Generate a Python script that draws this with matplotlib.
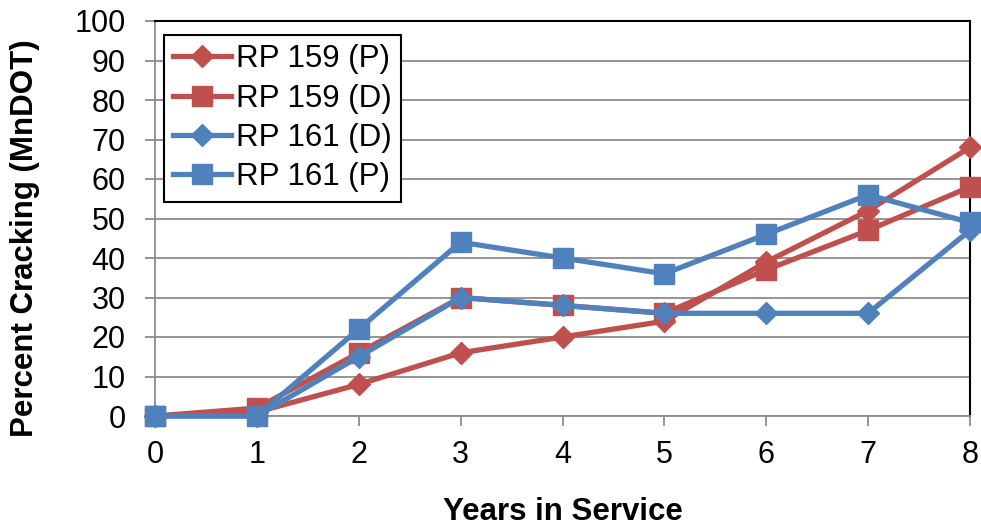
import matplotlib
matplotlib.use("Agg")
import matplotlib.pyplot as plt

plt.rcParams['font.family'] = ['Liberation Sans', 'DejaVu Sans']

years = [0, 1, 2, 3, 4, 5, 6, 7, 8]
rp159_p = [0, 1, 8, 16, 20, 24, 39, 52, 68]
rp159_d = [0, 2, 16, 30, 28, 26, 37, 47, 58]
rp161_d = [0, 0, 15, 30, 28, 26, 26, 26, 47]
rp161_p = [0, 0, 22, 44, 40, 36, 46, 56, 49]
labels = ['RP 159 (P)', 'RP 159 (D)', 'RP 161 (D)', 'RP 161 (P)']

red = '#C0504D'
blue = '#4F81BD'

fig = plt.figure(figsize=(9.81, 5.29), dpi=100)
ax = fig.add_axes([155/981, 1-416/529, (970-155)/981, (416-21)/529])

series = [(rp159_p, red, 'D'), (rp159_d, red, 's'),
          (rp161_d, blue, 'D'), (rp161_p, blue, 's')]
for (vals, c, m), lab in zip(series, labels):
    ax.plot(years, vals, color=c, marker=m, markersize=14 if m == 's' else 11.5,
            linewidth=3.8, label=lab, clip_on=False, zorder=3)

ax.set_xlim(0, 8)
ax.set_ylim(0, 100)
ax.set_xticks(years)
ax.set_yticks(range(0, 101, 10))
ax.yaxis.grid(True, color='#8c8c8c', linewidth=1.3)
ax.set_axisbelow(True)
for s in ['left', 'bottom']:
    ax.spines[s].set_color('#8c8c8c')
    ax.spines[s].set_linewidth(1.3)
for s in ['top', 'right']:
    ax.spines[s].set_color('black')
    ax.spines[s].set_linewidth(1.5)
ax.tick_params(axis='both', colors='#8c8c8c', labelcolor='black', labelsize=22,
               length=7, width=1.3, direction='out')
ax.tick_params(axis='y', pad=14)
ax.tick_params(axis='x', pad=10)

ax.set_xlabel('Years in Service', fontsize=22.5, fontweight='bold')
ax.set_ylabel('Percent Cracking (MnDOT)', fontsize=22.5, fontweight='bold')
ax.xaxis.set_label_coords(0.5, -0.205)
ax.yaxis.set_label_coords(-0.141, 0.451)

leg = ax.legend(loc='upper left', bbox_to_anchor=(0.011, 0.965), fontsize=22.5,
                frameon=True, fancybox=False, edgecolor='black', framealpha=1,
                handlelength=1.85, handletextpad=0.15, borderpad=0.3, labelspacing=0.3,
                borderaxespad=0.0)
leg.get_frame().set_linewidth(1.5)

fig.savefig('out.png', dpi=100)
